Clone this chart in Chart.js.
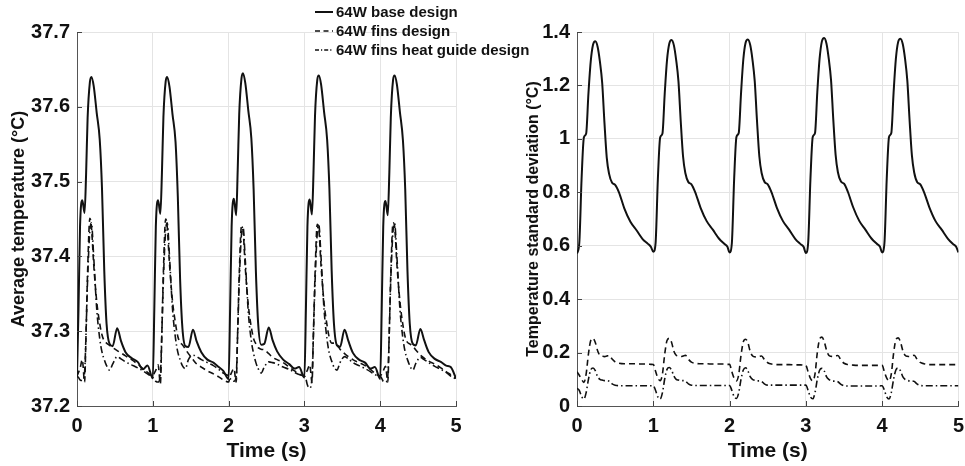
<!DOCTYPE html>
<html>
<head>
<meta charset="utf-8">
<script src="https://cdn.jsdelivr.net/npm/chart.js@4"></script>
<style>
  body { margin:0; background:#fff; width:965px; height:466px; position:relative; overflow:hidden;
         font-family:"Liberation Sans", Arial, sans-serif; }
  #cL { position:absolute; left:0; top:0; }
  #cR { position:absolute; left:482px; top:0; }
  #legend { position:absolute; left:314px; top:2px; z-index:2; font-weight:bold; font-size:15px; color:#111; }
  .row { display:flex; align-items:center; height:19px; white-space:nowrap; }
  .row svg { margin-right:2px; }
</style>
</head>
<body>
<canvas id="cL" width="482" height="466"></canvas>
<canvas id="cR" width="490" height="466"></canvas>
<div id="legend"></div>
<script>
// ---- data ----
const seriesNames = ['64W base design', '64W fins design', '64W fins heat guide design'];
const xTicks = [0, 1, 2, 3, 4, 5];
const leftYTicks = [37.2, 37.3, 37.4, 37.5, 37.6, 37.7];
const rightYTicks = [0, 0.2, 0.4, 0.6, 0.8, 1, 1.2, 1.4];

// left panel: average temperature (°C)
const timeLeft = [
  0,0.02,0.04,0.07,0.10,0.12,0.14,0.17,0.19,0.22,0.26,0.30,0.33,0.36,0.39,0.43,0.47,0.53,0.58,0.64,0.72,0.80,0.87,0.93,
  1,1.02,1.04,1.07,1.10,1.12,1.14,1.17,1.19,1.22,1.26,1.30,1.33,1.36,1.39,1.43,1.47,1.53,1.58,1.64,1.72,1.80,1.87,1.93,
  2,2.02,2.04,2.07,2.10,2.12,2.14,2.17,2.19,2.22,2.26,2.30,2.33,2.36,2.39,2.43,2.47,2.53,2.58,2.64,2.72,2.80,2.87,2.93,
  3,3.02,3.04,3.07,3.10,3.12,3.14,3.17,3.19,3.22,3.26,3.30,3.33,3.36,3.39,3.43,3.47,3.53,3.58,3.64,3.72,3.80,3.87,3.93,
  4,4.02,4.04,4.07,4.10,4.12,4.14,4.17,4.19,4.22,4.26,4.30,4.33,4.36,4.39,4.43,4.47,4.53,4.58,4.64,4.72,4.80,4.87,4.93,
  5
];
const avgBase = [
  37.240,37.33,37.44,37.475,37.458,37.51,37.585,37.633,37.640,37.628,37.592,37.556,37.49,37.38,37.31,37.283,37.280,37.304,37.287,37.272,37.264,37.259,37.249,37.254,
  37.237,37.33,37.44,37.475,37.457,37.51,37.586,37.634,37.640,37.627,37.590,37.553,37.48,37.37,37.305,37.280,37.279,37.302,37.286,37.272,37.262,37.258,37.252,37.247,
  37.236,37.33,37.44,37.477,37.455,37.515,37.59,37.638,37.645,37.632,37.595,37.558,37.49,37.38,37.31,37.282,37.283,37.305,37.288,37.273,37.262,37.256,37.250,37.252,
  37.238,37.33,37.44,37.476,37.456,37.512,37.588,37.636,37.642,37.630,37.593,37.556,37.49,37.38,37.31,37.281,37.279,37.302,37.287,37.271,37.262,37.258,37.250,37.252,
  37.236,37.33,37.44,37.474,37.455,37.51,37.586,37.636,37.642,37.630,37.593,37.555,37.49,37.38,37.31,37.283,37.281,37.303,37.288,37.272,37.263,37.259,37.254,37.252,
  37.237
];
const avgFins = [
  37.240,37.245,37.250,37.262,37.232,37.30,37.38,37.451,37.44,37.39,37.34,37.31,37.295,37.287,37.284,37.281,37.278,37.274,37.271,37.267,37.262,37.256,37.250,37.245,
  37.240,37.244,37.248,37.255,37.230,37.30,37.38,37.450,37.44,37.39,37.34,37.31,37.293,37.285,37.282,37.276,37.270,37.262,37.256,37.252,37.247,37.243,37.239,37.235,
  37.232,37.240,37.245,37.250,37.232,37.30,37.375,37.440,37.435,37.385,37.335,37.305,37.290,37.283,37.278,37.276,37.275,37.270,37.265,37.262,37.258,37.252,37.247,37.243,
  37.240,37.244,37.248,37.255,37.232,37.30,37.375,37.443,37.437,37.387,37.337,37.307,37.291,37.284,37.284,37.282,37.276,37.270,37.266,37.262,37.258,37.254,37.249,37.244,
  37.240,37.243,37.247,37.253,37.232,37.30,37.378,37.445,37.44,37.39,37.34,37.308,37.292,37.285,37.283,37.280,37.275,37.268,37.264,37.260,37.256,37.251,37.246,37.242,
  37.237
];
const avgGuide = [
  37.240,37.238,37.235,37.234,37.245,37.30,37.37,37.435,37.445,37.40,37.33,37.29,37.272,37.262,37.254,37.248,37.256,37.266,37.263,37.259,37.255,37.251,37.247,37.243,
  37.238,37.236,37.233,37.232,37.242,37.30,37.37,37.435,37.445,37.40,37.33,37.29,37.272,37.262,37.254,37.250,37.262,37.268,37.266,37.262,37.258,37.254,37.249,37.244,
  37.240,37.237,37.234,37.233,37.240,37.30,37.365,37.430,37.440,37.395,37.325,37.287,37.270,37.258,37.250,37.244,37.252,37.259,37.258,37.256,37.252,37.249,37.245,37.242,
  37.240,37.236,37.228,37.224,37.238,37.30,37.365,37.432,37.442,37.398,37.328,37.288,37.270,37.260,37.252,37.248,37.258,37.266,37.263,37.258,37.254,37.250,37.246,37.242,
  37.240,37.237,37.233,37.232,37.240,37.30,37.37,37.435,37.444,37.40,37.33,37.29,37.272,37.262,37.254,37.248,37.257,37.265,37.262,37.258,37.253,37.249,37.245,37.240,
  37.236
];

// right panel: temperature standard deviation (°C)
const timeRight = [
  0,0.03,0.06,0.09,0.12,0.15,0.18,0.21,0.24,0.27,0.30,0.33,0.36,0.39,0.42,0.46,0.50,0.55,0.62,0.70,0.78,0.86,0.93,0.97,
  1,1.03,1.06,1.09,1.12,1.15,1.18,1.21,1.24,1.27,1.30,1.33,1.36,1.39,1.42,1.46,1.50,1.55,1.62,1.70,1.78,1.86,1.93,1.97,
  2,2.03,2.06,2.09,2.12,2.15,2.18,2.21,2.24,2.27,2.30,2.33,2.36,2.39,2.42,2.46,2.50,2.55,2.62,2.70,2.78,2.86,2.93,2.97,
  3,3.03,3.06,3.09,3.12,3.15,3.18,3.21,3.24,3.27,3.30,3.33,3.36,3.39,3.42,3.46,3.50,3.55,3.62,3.70,3.78,3.86,3.93,3.97,
  4,4.03,4.06,4.09,4.12,4.15,4.18,4.21,4.24,4.27,4.30,4.33,4.36,4.39,4.42,4.46,4.50,4.55,4.62,4.70,4.78,4.86,4.93,4.97,
  5
];
const sdBase = [
  0.571,0.61,0.85,1.005,1.02,1.17,1.29,1.352,1.365,1.345,1.29,1.21,1.06,0.93,0.87,0.836,0.828,0.80,0.74,0.69,0.658,0.625,0.607,0.595,
  0.577,0.61,0.85,1.005,1.02,1.17,1.295,1.357,1.370,1.35,1.295,1.215,1.065,0.935,0.872,0.838,0.83,0.80,0.742,0.692,0.66,0.627,0.607,0.597,
  0.575,0.61,0.85,1.007,1.022,1.17,1.297,1.36,1.372,1.352,1.297,1.215,1.065,0.935,0.872,0.838,0.83,0.80,0.742,0.692,0.66,0.626,0.606,0.596,
  0.573,0.61,0.85,1.007,1.022,1.175,1.30,1.365,1.378,1.357,1.30,1.22,1.07,0.94,0.875,0.84,0.832,0.802,0.744,0.693,0.66,0.627,0.607,0.597,
  0.575,0.61,0.85,1.007,1.022,1.173,1.30,1.363,1.375,1.355,1.30,1.218,1.068,0.938,0.874,0.838,0.83,0.80,0.743,0.692,0.66,0.627,0.606,0.596,
  0.575
];
const sdFins = [
  0.128,0.115,0.100,0.088,0.12,0.195,0.245,0.253,0.238,0.207,0.19,0.187,0.185,0.187,0.19,0.176,0.165,0.16,0.158,0.158,0.158,0.157,0.157,0.156,
  0.155,0.130,0.105,0.095,0.12,0.195,0.245,0.253,0.238,0.205,0.19,0.187,0.185,0.187,0.19,0.175,0.164,0.16,0.158,0.158,0.157,0.157,0.157,0.156,
  0.156,0.128,0.104,0.094,0.118,0.19,0.24,0.25,0.237,0.205,0.188,0.184,0.183,0.185,0.187,0.172,0.162,0.157,0.155,0.155,0.155,0.154,0.154,0.153,
  0.152,0.127,0.103,0.094,0.12,0.20,0.25,0.258,0.242,0.21,0.19,0.186,0.185,0.187,0.189,0.172,0.16,0.155,0.153,0.152,0.152,0.152,0.152,0.152,
  0.152,0.127,0.104,0.094,0.12,0.197,0.248,0.255,0.24,0.208,0.19,0.186,0.185,0.188,0.19,0.174,0.163,0.158,0.155,0.155,0.155,0.155,0.155,0.155,
  0.155
];
const sdGuide = [
  0.066,0.058,0.036,0.026,0.05,0.10,0.135,0.142,0.132,0.11,0.10,0.097,0.095,0.095,0.093,0.083,0.078,0.076,0.076,0.076,0.076,0.076,0.076,0.076,
  0.076,0.058,0.034,0.026,0.05,0.102,0.137,0.144,0.134,0.112,0.10,0.097,0.095,0.095,0.093,0.083,0.078,0.077,0.077,0.077,0.077,0.077,0.077,0.077,
  0.077,0.058,0.035,0.028,0.05,0.10,0.135,0.143,0.132,0.11,0.10,0.096,0.094,0.094,0.092,0.082,0.078,0.078,0.078,0.078,0.078,0.078,0.078,0.078,
  0.078,0.058,0.034,0.027,0.05,0.10,0.134,0.141,0.132,0.11,0.10,0.095,0.093,0.093,0.091,0.081,0.076,0.075,0.075,0.075,0.075,0.075,0.075,0.075,
  0.076,0.058,0.034,0.026,0.05,0.10,0.135,0.142,0.132,0.11,0.10,0.096,0.094,0.094,0.092,0.082,0.077,0.076,0.076,0.076,0.076,0.076,0.076,0.076,
  0.076
];

// ---- styling ----
const FONT = '"Liberation Sans", Arial, sans-serif';
const INK = '#111';
const dashes = [[], [6, 4], [7, 3, 1.5, 3]];
const widths = [2, 1.6, 1.6];

// html legend with little line samples
document.getElementById('legend').innerHTML = seriesNames.map((n, i) => `
  <div class="row">
    <svg width="20" height="6"><line x1="1" y1="3" x2="19" y2="3" stroke="${INK}" stroke-width="${widths[i]}"
      stroke-dasharray="${i === 1 ? '5,3.5' : i === 2 ? '4,2,1.2,2' : 'none'}"/></svg>${n}
  </div>`).join('');

// MATLAB style inward ticks on left and bottom axes
const innerTicks = {
  id: 'innerTicks',
  afterDraw(chart) {
    const { ctx, chartArea: a, scales } = chart;
    ctx.save();
    ctx.strokeStyle = '#444'; ctx.lineWidth = 1;
    ctx.beginPath();
    scales.x.ticks.forEach(t => {
      const px = Math.round(scales.x.getPixelForValue(t.value)) + 0.5;
      ctx.moveTo(px, a.bottom); ctx.lineTo(px, a.bottom - 5);
    });
    scales.y.ticks.forEach(t => {
      const py = Math.round(scales.y.getPixelForValue(t.value)) + 0.5;
      ctx.moveTo(a.left, py); ctx.lineTo(a.left + 5, py);
    });
    ctx.stroke();
    ctx.restore();
  }
};

function makeChart(id, times, lists, yMin, yMax, yTicks, yTitle, yTitleSize, yTitlePad, yWidth, pad) {
  const datasets = lists.map((vals, i) => ({
    label: seriesNames[i],
    data: times.map((t, j) => ({ x: t, y: vals[j] })),
    borderColor: INK, borderWidth: widths[i], borderDash: dashes[i],
    pointRadius: 0, cubicInterpolationMode: 'monotone', fill: false
  }));
  return new Chart(document.getElementById(id), {
    type: 'line',
    data: { datasets },
    plugins: [innerTicks],
    options: {
      responsive: false, animation: false, devicePixelRatio: 1,
      layout: { padding: pad },
      plugins: { legend: { display: false }, tooltip: { enabled: false } },
      scales: {
        x: {
          type: 'linear', min: 0, max: 5,
          afterBuildTicks: s => { s.ticks = xTicks.map(v => ({ value: v })); },
          afterFit: s => { s.height = 60; },
          grid: { color: '#e4e4e4', drawTicks: false },
          border: { color: '#555' },
          ticks: { padding: 8, color: INK, font: { family: FONT, size: 20, weight: 'bold' }, maxRotation: 0 },
          title: { display: true, text: 'Time (s)', color: INK, padding: { top: 0, bottom: 2 },
                   font: { family: FONT, size: 21, weight: 'bold' } }
        },
        y: {
          type: 'linear', min: yMin, max: yMax,
          afterBuildTicks: s => { s.ticks = yTicks.map(v => ({ value: v })); },
          afterFit: s => { s.width = yWidth; },
          grid: { color: '#e4e4e4', drawTicks: false },
          border: { color: '#555' },
          ticks: { padding: 7, color: INK, font: { family: FONT, size: 20, weight: 'bold' },
                   callback: v => String(+v.toFixed(1)) },
          title: { display: true, text: yTitle, color: INK, padding: { top: yTitlePad, bottom: 0 },
                   font: { family: FONT, size: yTitleSize, weight: 'bold' } }
        }
      }
    }
  });
}

makeChart('cL', timeLeft, [avgBase, avgFins, avgGuide], 37.2, 37.7, leftYTicks,
  'Average temperature (\u00B0C)', 18, 8, 77, { top: 32, right: 26, left: 0, bottom: 0 });
makeChart('cR', timeRight, [sdBase, sdFins, sdGuide], 0, 1.4, rightYTicks,
  'Temperature standard deviation (\u00B0C)', 16, 42, 95, { top: 32, right: 7, left: 0, bottom: 0 });
</script>
</body>
</html>
